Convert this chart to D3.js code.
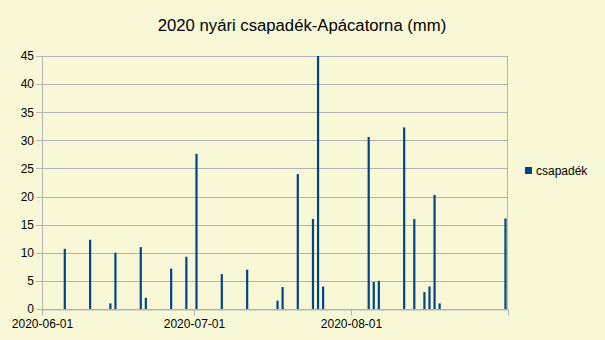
<!DOCTYPE html>
<html>
<head>
<meta charset="utf-8">
<script src="https://cdn.jsdelivr.net/npm/d3@7"></script>
<style>
    body { margin: 0; background: #f8f8d6; }
    svg { display: block; font-family: "Liberation Sans", Arial, sans-serif; }
</style>
</head>
<body>
<svg id="drawing_region"></svg>
<script>
// napi csapadék (mm)
const dates = [
    "2020-06-05", "2020-06-10", "2020-06-14", "2020-06-15", "2020-06-20", "2020-06-21",
    "2020-06-26", "2020-06-29", "2020-07-01", "2020-07-06", "2020-07-11", "2020-07-17",
    "2020-07-18", "2020-07-21", "2020-07-24", "2020-07-25", "2020-07-26", "2020-08-04",
    "2020-08-05", "2020-08-06", "2020-08-11", "2020-08-13", "2020-08-15", "2020-08-16",
    "2020-08-17", "2020-08-18", "2020-08-31"
];
const values = [
    10.7, 12.3, 1.0, 10.0, 11.0, 2.0,
    7.2, 9.3, 27.6, 6.2, 7.0, 1.5,
    3.9, 24.0, 16.0, 45.0, 4.0, 30.6,
    4.8, 5.0, 32.3, 16.0, 3.0, 4.0,
    20.3, 1.0, 16.1
];
const x_ticks = ["2020-06-01", "2020-07-01", "2020-08-01", "2020-09-01"];
const x_tick_labels = ["2020-06-01", "2020-07-01", "2020-08-01", ""];
const y_ticks = [0, 5, 10, 15, 20, 25, 30, 35, 40, 45];

const parse = d3.utcParse("%Y-%m-%d");
const data = dates.map((d, i) => ({ date: parse(d), value: values[i] }));

const config = {
    width: 605,
    height: 340,
    margin: {top: 56, right: 97, bottom: 31, left: 42}
};

const svg = d3.select('#drawing_region')
    .attr('width', config.width)
    .attr('height', config.height);

svg.append('rect')
    .attr('width', config.width)
    .attr('height', config.height)
    .attr('fill', '#f8f8d6');

const inner_width = config.width - config.margin.left - config.margin.right;
const inner_height = config.height - config.margin.top - config.margin.bottom;

const chart = svg.append('g')
    .attr('transform', `translate(${config.margin.left}, ${config.margin.top})`);

const xscale = d3.scaleUtc()
    .domain([parse(x_ticks[0]), parse(x_ticks[x_ticks.length - 1])])
    .range([0, inner_width]);

const yscale = d3.scaleLinear()
    .domain([0, 45])
    .range([inner_height, 0]);

// gridlines
chart.append('g')
    .selectAll('line')
    .data(y_ticks)
    .join('line')
    .attr('x1', -6)
    .attr('x2', inner_width)
    .attr('y1', d => Math.round(yscale(d)) + 0.5)
    .attr('y2', d => Math.round(yscale(d)) + 0.5)
    .attr('stroke', '#b3b3b3')
    .attr('stroke-width', 1);

// y labels
const yaxis = d3.axisLeft(yscale)
    .tickValues(y_ticks)
    .tickSize(0)
    .tickPadding(8);

const yaxis_group = chart.append('g').call(yaxis);
yaxis_group.select('.domain').remove();
yaxis_group.selectAll('text')
    .attr('font-size', 12)
    .attr('font-family', '"Liberation Sans", Arial, sans-serif')
    .attr('fill', '#000');

// left and right borders
chart.append('line')
    .attr('x1', 0.5).attr('x2', 0.5)
    .attr('y1', 0).attr('y2', inner_height)
    .attr('stroke', '#b3b3b3');
chart.append('line')
    .attr('x1', inner_width - 0.5).attr('x2', inner_width - 0.5)
    .attr('y1', 0).attr('y2', inner_height)
    .attr('stroke', '#b3b3b3');

// x axis
const xaxis = d3.axisBottom(xscale)
    .tickValues(x_ticks.map(parse))
    .tickFormat((d, i) => x_tick_labels[i])
    .tickSize(6)
    .tickPadding(4)
    .tickSizeOuter(0);

const xaxis_group = chart.append('g')
    .attr('transform', `translate(0, ${inner_height + 0.5})`)
    .call(xaxis);
xaxis_group.select('.domain').attr('stroke', '#b3b3b3');
xaxis_group.selectAll('.tick line').attr('stroke', '#b3b3b3');
xaxis_group.selectAll('text')
    .attr('font-size', 12)
    .attr('font-family', '"Liberation Sans", Arial, sans-serif')
    .attr('fill', '#000');

// bars, centred in the middle of their day
const day = 24 * 3600 * 1000;
const bar_width = 2.2;
chart.append('g')
    .selectAll('rect')
    .data(data)
    .join('rect')
    .attr('x', d => xscale(new Date(d.date.getTime() + day / 2)) - bar_width / 2)
    .attr('y', d => yscale(d.value))
    .attr('width', bar_width)
    .attr('height', d => inner_height - yscale(d.value))
    .attr('fill', '#004586');

// title
svg.append('text')
    .attr('x', 302)
    .attr('y', 31)
    .attr('text-anchor', 'middle')
    .attr('font-size', 16.7)
    .attr('fill', '#000')
    .text('2020 nyári csapadék-Apácatorna (mm)');

// legend
svg.append('rect')
    .attr('x', 525)
    .attr('y', 167)
    .attr('width', 7)
    .attr('height', 7)
    .attr('fill', '#004586');
svg.append('text')
    .attr('x', 536)
    .attr('y', 175)
    .attr('font-size', 12)
    .attr('fill', '#000')
    .text('csapadék');
</script>
</body>
</html>
